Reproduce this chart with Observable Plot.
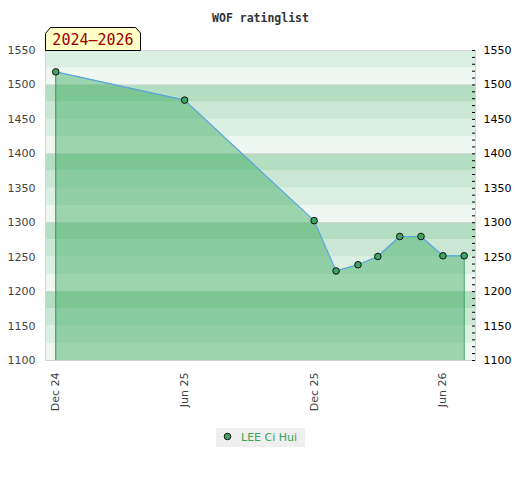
<!DOCTYPE html>
<html>
<head>
<meta charset="utf-8">
<script src="https://cdn.jsdelivr.net/npm/d3@7"></script>
<script src="https://cdn.jsdelivr.net/npm/@observablehq/plot@0.6"></script>
<style>
  html, body { margin: 0; padding: 0; background: #fff; }
  #chart { position: relative; width: 520px; height: 480px; }
</style>
</head>
<body>
<div id="chart"></div>
<script>
const title = "WOF ratinglist";
const periodLabel = "2024–2026";
const playerName = "LEE Ci Hui";
const dates = ["2024-12-01","2025-06-01","2025-12-01","2026-01-01","2026-02-01","2026-03-01","2026-04-01","2026-05-01","2026-06-01","2026-07-01"];
const ratings = [1519, 1478, 1303, 1230, 1239, 1251, 1280, 1280, 1252, 1252];
const xTicks = ["2024-12-01","2025-06-01","2025-12-01","2026-06-01"];
const yTicks = [1100, 1150, 1200, 1250, 1300, 1350, 1400, 1450, 1500, 1550];
const yDomain = [1100, 1550];
const xDomain = ["2024-11-16T12:00:00Z", "2026-07-17T00:00:00Z"];

const data = dates.map((d, i) => ({date: new Date(d + "T00:00:00Z"), rating: ratings[i]}));

const bandShades = ["#eef7f1", "#dcefe3", "#c9e7d4", "#b3dec1"];
const bands = d3.range(yDomain[0], yDomain[1], 25).map(lo => ({
  lo, hi: lo + 25, c: bandShades[((lo % 100) / 25)]
}));
const minorTicks = d3.range(yDomain[0], yDomain[1] + 1, 10);
const blockLines = [1200, 1300, 1400, 1500];

const first = data[0], last = data[data.length - 1];
const fmt = d => String(d);

const svg = Plot.plot({
  width: 520,
  height: 480,
  marginTop: 50,
  marginBottom: 120,
  marginLeft: 45,
  marginRight: 45,
  style: {fontFamily: "DejaVu Sans", fontSize: "11px", background: "white", overflow: "visible"},
  x: {type: "utc", domain: xDomain.map(d => new Date(d))},
  y: {domain: yDomain},
  marks: [
    Plot.rect(bands, {y1: "lo", y2: "hi", fill: "c"}),
    Plot.ruleY(blockLines, {stroke: "#cfd6d1", strokeWidth: 1}),
    Plot.areaY(data, {x: "date", y1: yDomain[0], y2: "rating", fill: "#3aa95f", fillOpacity: 0.46}),
    Plot.ruleX([first], {x: "date", y1: yDomain[0], y2: "rating", stroke: "#2f9a55", strokeWidth: 1}),
    Plot.ruleX([last], {x: "date", y1: yDomain[0], y2: "rating", stroke: "#2f9a55", strokeWidth: 1}),
    Plot.line(data, {x: "date", y: "rating", stroke: "#5aa4e0", strokeWidth: 1.2}),
    Plot.dot(data, {x: "date", y: "rating", r: 3.3, fill: "#3fa562", stroke: "#111", strokeWidth: 1}),
    Plot.frame({stroke: "#d4d4d4"}),
    Plot.axisY({anchor: "left", ticks: yTicks, tickSize: 0, tickPadding: 10, tickFormat: fmt, fill: "#444", label: null}),
    Plot.axisY({anchor: "right", ticks: minorTicks, tickSize: 3, dx: -4, text: null, stroke: "#000", label: null}),
    Plot.axisY({anchor: "right", ticks: yTicks, tickSize: 0, tickPadding: 8, tickFormat: fmt, fill: "#000", label: null}),
    Plot.axisX({ticks: xTicks.map(d => new Date(d + "T00:00:00Z")), tickFormat: d3.utcFormat("%b %y"), tickRotate: -90, tickSize: 0, tickPadding: 12, fill: "#444", label: null}),
    Plot.text([title], {frameAnchor: "top", dy: -37, fontFamily: "DejaVu Sans Mono", fontWeight: "bold", fontSize: 11.5, fill: "#333"})
  ]
});

document.getElementById("chart").appendChild(svg);

const s = d3.select(svg);
// period label box
const g = s.append("g");
g.append("path")
  .attr("d", "M45.5,50.5 V33.5 L50.5,27.5 H135.5 L140.5,33 V50.5 Z")
  .attr("fill", "#ffffc6").attr("stroke", "#000").attr("stroke-width", 1);
g.append("text")
  .attr("x", 93).attr("y", 45)
  .attr("text-anchor", "middle")
  .attr("font-family", "DejaVu Sans Mono").attr("font-size", 15)
  .attr("fill", "#9a0000")
  .text(periodLabel);

// legend
const lg = s.append("g");
lg.append("rect").attr("x", 216).attr("y", 428).attr("width", 89).attr("height", 19).attr("fill", "#efefef");
lg.append("circle").attr("cx", 227.5).attr("cy", 436.5).attr("r", 3.3).attr("fill", "#3fa562").attr("stroke", "#111");
lg.append("text").attr("x", 241).attr("y", 440.5)
  .attr("text-anchor", "start")
  .attr("font-family", "DejaVu Sans").attr("font-size", 11).attr("fill", "#3aa35a")
  .text(playerName);
</script>
</body>
</html>
